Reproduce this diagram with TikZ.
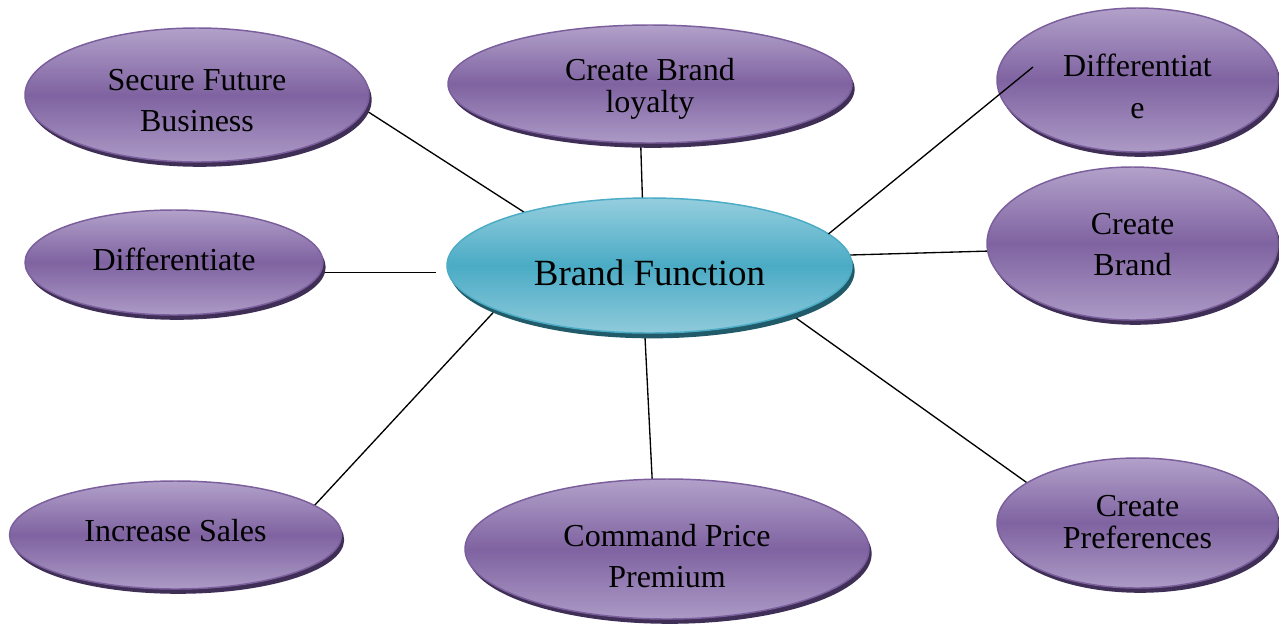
\documentclass[tikz,border=0pt]{standalone}
\usepackage{fontspec}
\setmainfont{Liberation Serif}
\usetikzlibrary{shapes.geometric,shadows}
\pgfdeclarelayer{bg}
\pgfsetlayers{bg,main}
\definecolor{plight}{HTML}{B2A1CA}
\definecolor{pmid}{HTML}{7F63A1}
\definecolor{pbot}{HTML}{AC9AC6}
\definecolor{pdark}{HTML}{3F2E56}
\definecolor{pborder}{HTML}{7B5E9C}
\definecolor{blight}{HTML}{95CEDE}
\definecolor{bmid}{HTML}{4AABC5}
\definecolor{bbot}{HTML}{8FCADB}
\definecolor{bdark}{HTML}{215A69}
\definecolor{bborder}{HTML}{4BACC6}
\newcommand\bubtext[2]{\raisebox{#1}[\height][\depth]{\begin{tabular}{@{}c@{}}#2\end{tabular}}}
\tikzset{
  bubble/.style={ellipse, inner sep=0pt, outer sep=0pt, align=center,
    line width=1.1pt, font=\fontsize{24}{30.75}\selectfont},
  purplebubble/.style={bubble, draw=pborder, top color=plight, bottom color=pbot, middle color=pmid,
    general shadow={fill=pdark, shadow xshift=2pt, shadow yshift=-3.6pt}},
  bluebubble/.style={bubble, draw=bborder, top color=blight, bottom color=bbot, middle color=bmid,
    font=\fontsize{27.75}{33}\selectfont,
    general shadow={fill=bdark, shadow xshift=2pt, shadow yshift=-4pt}},
  link/.style={draw=black, line width=1pt}
}
\begin{document}
\begin{tikzpicture}[x=0.75pt,y=-0.75pt]
\useasboundingbox (0,0) rectangle (1279,633);
\begin{pgfonlayer}{bg}
\fill[white] (0,0) rectangle (1279,633);
\end{pgfonlayer}

\node[bluebubble, minimum width=303.75pt, minimum height=101.25pt] (bf) at (649.5,265.5) {\bubtext{-8.75pt}{Brand Function}};

\node[purplebubble, minimum width=258pt, minimum height=100.5pt] (sfb) at (197,95) {\bubtext{-6pt}{Secure Future\\Business}};
\node[purplebubble, minimum width=303pt, minimum height=88.5pt, font=\fontsize{24}{24}\selectfont] (cbl) at (650,84) {\bubtext{-4.5pt}{Create Brand\\loyalty}};
\node[purplebubble, minimum width=210.75pt, minimum height=108pt, font=\fontsize{24}{31.5}\selectfont] (d1) at (1137.5,80) {\bubtext{-7pt}{Differentiat\\e}};
\node[purplebubble, minimum width=223.5pt, minimum height=78.75pt] (d2) at (174,262.5) {\bubtext{0pt}{Differentiate}};
\node[purplebubble, minimum width=218.25pt, minimum height=114.75pt] (cb) at (1132.5,243.5) {\bubtext{-2.25pt}{Create\\Brand}};
\node[purplebubble, minimum width=249pt, minimum height=81pt] (is) at (175.5,535) {\bubtext{1.5pt}{Increase Sales}};
\node[purplebubble, minimum width=303pt, minimum height=105pt] (cpp) at (667,549) {\bubtext{-7.5pt}{Command Price\\Premium}};
\node[purplebubble, minimum width=210.75pt, minimum height=97.5pt, font=\fontsize{24}{24}\selectfont] (cp) at (1137.5,523) {\bubtext{-2.25pt}{Create\\Preferences}};

\coordinate (d1in) at (1033,67);

\begin{pgfonlayer}{bg}
\draw[link] (sfb.-5) -- (bf.157);
\draw[link] (cbl.-99) -- (bf.96);
\draw[link, shorten >=8pt] (d2.-4) -- (d2.-4 -| bf.west);
\draw[link] (bf.3) -- (cb.183);
\draw[link] (is.12) -- (bf.196);
\draw[link] (bf.266) -- (cpp.102);
\draw[link] (bf.341) -- (cp.160);
\end{pgfonlayer}
\draw[link] (bf.10) -- (d1in);
\end{tikzpicture}
\end{document}
